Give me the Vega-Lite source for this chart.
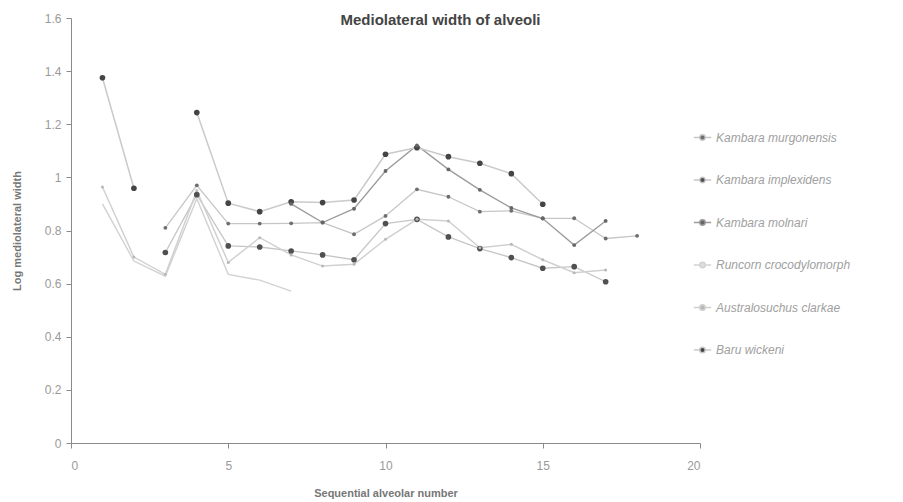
{
  "$schema": "https://vega.github.io/schema/vega-lite/v6.json",
  "autosize": "none",
  "width": 629,
  "height": 425,
  "padding": {"left": 71, "top": 18, "right": 203, "bottom": 59},
  "background": "white",
  "title": {
    "text": "Mediolateral width of alveoli",
    "font": "Liberation Sans",
    "fontSize": 15,
    "fontWeight": "bold",
    "color": "#444444",
    "anchor": "middle",
    "dx": 55,
    "offset": -16
  },
  "config": {
    "view": {"stroke": null},
    "font": "Liberation Sans",
    "axis": {
      "grid": false,
      "domainColor": "#8a8a8a",
      "tickColor": "#8a8a8a",
      "labelColor": "#9a9a9a",
      "labelFont": "Liberation Sans",
      "labelFontSize": 12,
      "titleColor": "#777777",
      "titleFont": "Liberation Sans",
      "titleFontSize": 11,
      "titleFontWeight": "bold",
      "tickSize": 5
    }
  },
  "datasets": {
    "alveoli": [
      {"species": "Kambara murgonensis", "n": 3, "w": 0.81},
      {"species": "Kambara murgonensis", "n": 4, "w": 0.97},
      {"species": "Kambara murgonensis", "n": 5, "w": 0.826},
      {"species": "Kambara murgonensis", "n": 6, "w": 0.826},
      {"species": "Kambara murgonensis", "n": 7, "w": 0.827},
      {"species": "Kambara murgonensis", "n": 8, "w": 0.83},
      {"species": "Kambara murgonensis", "n": 9, "w": 0.786},
      {"species": "Kambara murgonensis", "n": 10, "w": 0.855},
      {"species": "Kambara murgonensis", "n": 11, "w": 0.955},
      {"species": "Kambara murgonensis", "n": 12, "w": 0.927},
      {"species": "Kambara murgonensis", "n": 13, "w": 0.871},
      {"species": "Kambara murgonensis", "n": 14, "w": 0.874},
      {"species": "Kambara murgonensis", "n": 15, "w": 0.846},
      {"species": "Kambara murgonensis", "n": 16, "w": 0.846},
      {"species": "Kambara murgonensis", "n": 17, "w": 0.77},
      {"species": "Kambara murgonensis", "n": 18, "w": 0.78},
      {"species": "Kambara implexidens", "n": 3, "w": 0.717},
      {"species": "Kambara implexidens", "n": 4, "w": 0.935},
      {"species": "Kambara implexidens", "n": 5, "w": 0.742},
      {"species": "Kambara implexidens", "n": 6, "w": 0.738},
      {"species": "Kambara implexidens", "n": 7, "w": 0.723},
      {"species": "Kambara implexidens", "n": 8, "w": 0.708},
      {"species": "Kambara implexidens", "n": 9, "w": 0.69},
      {"species": "Kambara implexidens", "n": 10, "w": 0.826},
      {"species": "Kambara implexidens", "n": 11, "w": 0.842},
      {"species": "Kambara implexidens", "n": 12, "w": 0.776},
      {"species": "Kambara implexidens", "n": 13, "w": 0.732},
      {"species": "Kambara implexidens", "n": 14, "w": 0.698},
      {"species": "Kambara implexidens", "n": 15, "w": 0.658},
      {"species": "Kambara implexidens", "n": 16, "w": 0.664},
      {"species": "Kambara implexidens", "n": 17, "w": 0.607},
      {"species": "Kambara molnari", "n": 7, "w": 0.9},
      {"species": "Kambara molnari", "n": 8, "w": 0.83},
      {"species": "Kambara molnari", "n": 9, "w": 0.882},
      {"species": "Kambara molnari", "n": 10, "w": 1.024},
      {"species": "Kambara molnari", "n": 11, "w": 1.12},
      {"species": "Kambara molnari", "n": 12, "w": 1.03},
      {"species": "Kambara molnari", "n": 13, "w": 0.953},
      {"species": "Kambara molnari", "n": 14, "w": 0.885},
      {"species": "Kambara molnari", "n": 15, "w": 0.845},
      {"species": "Kambara molnari", "n": 16, "w": 0.745},
      {"species": "Kambara molnari", "n": 17, "w": 0.836},
      {"species": "Runcorn crocodylomorph", "n": 1, "w": 0.9},
      {"species": "Runcorn crocodylomorph", "n": 2, "w": 0.685},
      {"species": "Runcorn crocodylomorph", "n": 3, "w": 0.628},
      {"species": "Runcorn crocodylomorph", "n": 4, "w": 0.92},
      {"species": "Runcorn crocodylomorph", "n": 5, "w": 0.635},
      {"species": "Runcorn crocodylomorph", "n": 6, "w": 0.613},
      {"species": "Runcorn crocodylomorph", "n": 7, "w": 0.572},
      {"species": "Australosuchus clarkae", "n": 1, "w": 0.964},
      {"species": "Australosuchus clarkae", "n": 2, "w": 0.7},
      {"species": "Australosuchus clarkae", "n": 3, "w": 0.635},
      {"species": "Australosuchus clarkae", "n": 4, "w": 0.95},
      {"species": "Australosuchus clarkae", "n": 5, "w": 0.68},
      {"species": "Australosuchus clarkae", "n": 6, "w": 0.773},
      {"species": "Australosuchus clarkae", "n": 7, "w": 0.708},
      {"species": "Australosuchus clarkae", "n": 8, "w": 0.666},
      {"species": "Australosuchus clarkae", "n": 9, "w": 0.673},
      {"species": "Australosuchus clarkae", "n": 10, "w": 0.767},
      {"species": "Australosuchus clarkae", "n": 11, "w": 0.842},
      {"species": "Australosuchus clarkae", "n": 12, "w": 0.836},
      {"species": "Australosuchus clarkae", "n": 13, "w": 0.735},
      {"species": "Australosuchus clarkae", "n": 14, "w": 0.748},
      {"species": "Australosuchus clarkae", "n": 15, "w": 0.69},
      {"species": "Australosuchus clarkae", "n": 16, "w": 0.641},
      {"species": "Australosuchus clarkae", "n": 17, "w": 0.651},
      {"species": "Baru wickeni", "n": 1, "w": 1.375},
      {"species": "Baru wickeni", "n": 2, "w": 0.959},
      {"species": "Baru wickeni", "n": 3, "w": null},
      {"species": "Baru wickeni", "n": 4, "w": 1.244},
      {"species": "Baru wickeni", "n": 5, "w": 0.903},
      {"species": "Baru wickeni", "n": 6, "w": 0.871},
      {"species": "Baru wickeni", "n": 7, "w": 0.908},
      {"species": "Baru wickeni", "n": 8, "w": 0.905},
      {"species": "Baru wickeni", "n": 9, "w": 0.915},
      {"species": "Baru wickeni", "n": 10, "w": 1.087},
      {"species": "Baru wickeni", "n": 11, "w": 1.112},
      {"species": "Baru wickeni", "n": 12, "w": 1.078},
      {"species": "Baru wickeni", "n": 13, "w": 1.053},
      {"species": "Baru wickeni", "n": 14, "w": 1.014},
      {"species": "Baru wickeni", "n": 15, "w": 0.899}
    ]
  },
  "data": {"name": "alveoli"},
  "encoding": {
    "x": {
      "field": "n",
      "type": "quantitative",
      "title": "Sequential alveolar number",
      "scale": {"domain": [0, 20], "nice": false},
      "axis": {"values": [0, 5, 10, 15, 20], "labelPadding": 12, "titlePadding": 16, "format": "d"}
    },
    "y": {
      "field": "w",
      "type": "quantitative",
      "title": "Log mediolateral width",
      "scale": {"domain": [0, 1.6], "nice": false},
      "axis": {"values": [0, 0.2, 0.4, 0.6, 0.8, 1, 1.2, 1.4, 1.6], "format": ".1~f", "labelPadding": 5, "titlePadding": 22}
    }
  },
  "layer": [
    {
      "mark": {"type": "line", "invalid": "break-paths-show-domains"},
      "encoding": {
        "color": {
          "field": "species",
          "type": "nominal",
          "scale": {
            "domain": ["Kambara murgonensis", "Kambara implexidens", "Kambara molnari", "Runcorn crocodylomorph", "Australosuchus clarkae", "Baru wickeni"],
            "range": ["#c6c6c6", "#c6c6c6", "#9c9c9c", "#d2d2d2", "#d0d0d0", "#cacaca"]
          },
          "legend": {
            "title": null,
            "orient": "none",
            "legendX": 622,
            "legendY": 110,
            "symbolType": "M-1,0H-0.3M0.3,0H1M-0.32,0A0.32,0.32 0 1,0 0.32,0A0.32,0.32 0 1,0 -0.32,0Z",
            "symbolSize": 300,
            "symbolFillColor": "#5a5a5a",
            "symbolStrokeWidth": 1.3,
            "symbolOpacity": 1,
            "labelFont": "Liberation Sans",
            "labelFontSize": 12,
            "labelFontStyle": "italic",
            "labelColor": "#a0a0a0",
            "labelOffset": 4,
            "rowPadding": 26.5,
            "labelLimit": 220
          }
        },
        "strokeWidth": {
          "field": "species",
          "type": "nominal",
          "scale": {
            "domain": ["Kambara murgonensis", "Kambara implexidens", "Kambara molnari", "Runcorn crocodylomorph", "Australosuchus clarkae", "Baru wickeni"],
            "range": [1.3, 1.5, 2, 1.8, 1.5, 1.5]
          },
          "legend": null
        }
      }
    },
    {
      "transform": [{"filter": {"field": "species", "oneOf": ["Kambara implexidens", "Baru wickeni"]}}],
      "mark": {"type": "point", "filled": true, "shape": "circle", "opacity": 1, "size": 32},
      "encoding": {
        "fill": {
          "field": "species",
          "type": "nominal",
          "scale": {
            "domain": ["Kambara murgonensis", "Kambara implexidens", "Kambara molnari", "Runcorn crocodylomorph", "Australosuchus clarkae", "Baru wickeni"],
            "range": ["#6e6e6e", "#505050", "#666666", "#dddddd", "#b8b8b8", "#444444"]
          },
          "legend": null
        }
      }
    },
    {
      "transform": [{"filter": {"field": "species", "oneOf": ["Kambara murgonensis", "Kambara molnari"]}}],
      "mark": {"type": "point", "filled": true, "shape": "circle", "opacity": 1, "size": 15},
      "encoding": {
        "fill": {"field": "species", "type": "nominal", "legend": null}
      }
    },
    {
      "transform": [{"filter": {"field": "species", "equal": "Australosuchus clarkae"}}],
      "mark": {"type": "point", "filled": true, "shape": "circle", "opacity": 1, "size": 9},
      "encoding": {
        "fill": {"field": "species", "type": "nominal", "legend": null}
      }
    }
  ]
}
